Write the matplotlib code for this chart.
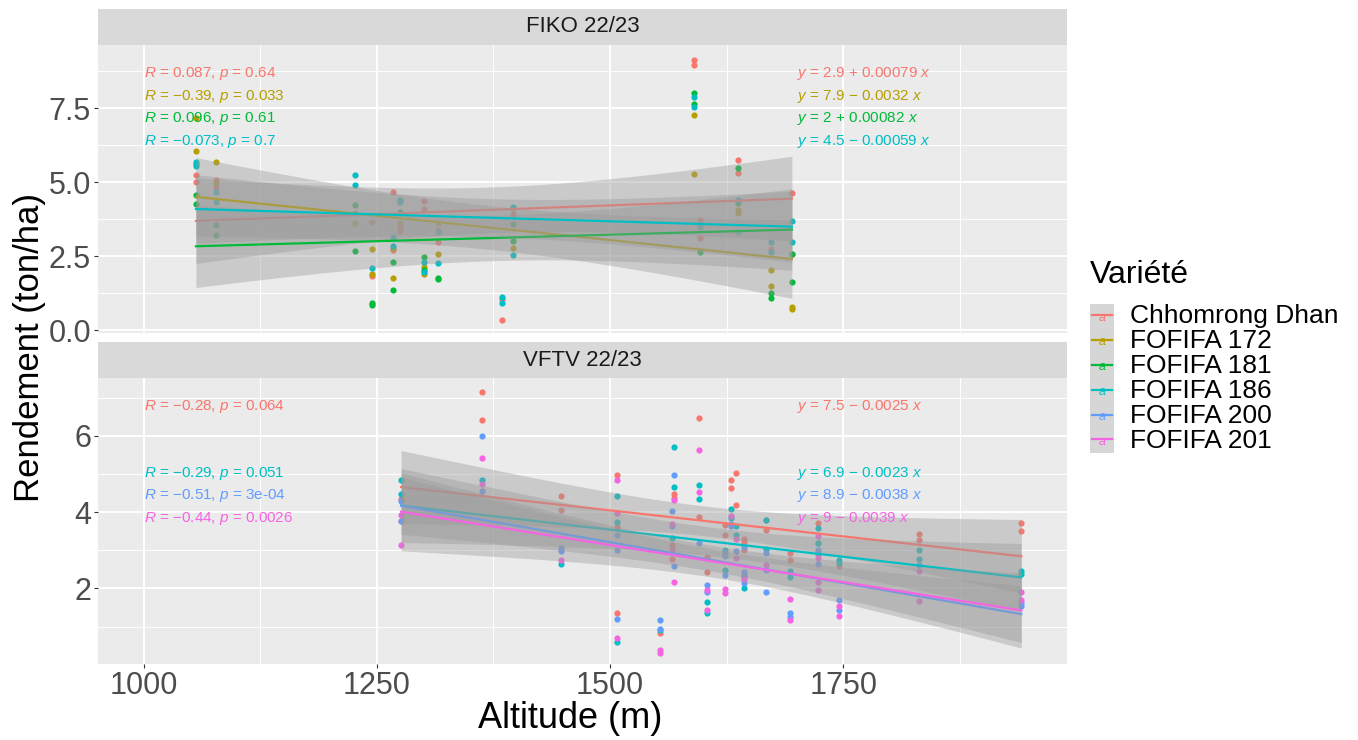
import numpy as np
import matplotlib
matplotlib.use('Agg')
import matplotlib.pyplot as plt
from matplotlib.patches import Rectangle

plt.rcParams['font.family'] = ['Liberation Sans', 'DejaVu Sans']
plt.rcParams['mathtext.fontset'] = 'custom'
plt.rcParams['mathtext.rm'] = 'Liberation Sans'
plt.rcParams['mathtext.it'] = 'Liberation Sans:italic'

# Variétés et couleurs (palette ggplot)
varieties = ['Chhomrong Dhan', 'FOFIFA 172', 'FOFIFA 181', 'FOFIFA 186', 'FOFIFA 200', 'FOFIFA 201']
colors = ['#F8766D', '#B79F00', '#00BA38', '#00BFC4', '#619CFF', '#F564E3']

# ---- FIKO 22/23 ----
fiko_chh_x = [1056, 1056, 1078, 1078, 1227, 1245, 1245, 1267, 1267, 1275, 1275, 1301, 1301, 1316, 1316,
              1384, 1384, 1396, 1590, 1590, 1597, 1597, 1637, 1637, 1673, 1695, 1695]
fiko_chh_y = [5.23, 5.01, 5.06, 4.84, 3.94, 3.65, 1.82, 4.68, 2.70, 3.49, 3.36, 4.37, 4.08, 2.97, 3.38,
              1.04, 0.34, 3.91, 9.14, 8.95, 3.72, 3.12, 5.75, 5.31, 2.73, 4.62, 2.57]
fiko_172_x = [1056, 1056, 1078, 1078, 1227, 1245, 1245, 1267, 1267, 1275, 1301, 1301, 1316, 1316,
              1396, 1396, 1590, 1590, 1637, 1637, 1673, 1673, 1695, 1695]
fiko_172_y = [6.05, 7.15, 5.69, 4.98, 3.63, 2.73, 1.88, 2.76, 1.76, 3.60, 2.12, 1.91, 3.60, 2.56,
              4.11, 2.76, 7.25, 5.26, 4.05, 3.94, 2.02, 1.48, 0.79, 0.70]
fiko_181_x = [1056, 1056, 1078, 1078, 1227, 1227, 1245, 1245, 1267, 1267, 1275, 1301, 1301, 1316, 1316,
              1396, 1396, 1590, 1590, 1597, 1637, 1637, 1673, 1673, 1695, 1695]
fiko_181_y = [4.55, 4.26, 3.55, 3.20, 4.22, 2.66, 0.90, 0.84, 2.30, 1.34, 4.00, 2.46, 2.03, 1.77, 1.73,
              3.58, 3.01, 8.02, 7.64, 2.65, 5.46, 4.28, 1.26, 1.07, 2.58, 1.62]
fiko_186_x = [1056, 1056, 1056, 1078, 1078, 1227, 1227, 1245, 1267, 1267, 1275, 1275, 1301, 1301, 1316, 1316,
              1384, 1384, 1396, 1396, 1590, 1590, 1597, 1637, 1637, 1673, 1673, 1695, 1695]
fiko_186_y = [5.69, 5.61, 5.53, 4.65, 4.32, 5.23, 4.90, 2.08, 2.84, 3.15, 4.39, 4.31, 2.29, 1.96, 3.30, 2.26,
              1.10, 0.90, 4.16, 2.55, 7.87, 7.55, 3.49, 4.39, 3.32, 2.97, 2.65, 3.68, 2.97]
fiko_r = ['0.087', '\u22120.39', '0.096', '\u22120.073']
fiko_p = ['0.64', '0.033', '0.61', '0.7']
fiko_b0 = ['2.9', '7.9', '2', '4.5']
fiko_b1 = ['0.00079', '\u22120.0032', '0.00082', '\u22120.00059']

# ---- VFTV 22/23 ----
vftv_chh_x = [1276, 1276, 1363, 1363, 1447, 1447, 1508, 1508, 1508, 1554, 1566, 1566, 1569, 1569, 1595, 1595,
              1604, 1604, 1623, 1623, 1630, 1630, 1635, 1635, 1644, 1644, 1644, 1667, 1667, 1693, 1693,
              1723, 1723, 1746, 1831, 1831, 1941, 1941]
vftv_chh_y = [4.36, 3.78, 7.14, 6.42, 4.43, 4.05, 4.97, 3.61, 1.35, 0.84, 3.13, 2.78, 4.49, 4.38, 6.46, 3.87,
              2.83, 2.42, 3.66, 3.40, 4.84, 4.63, 5.04, 4.19, 3.31, 3.22, 3.00, 3.79, 3.53, 2.92, 2.76,
              3.72, 2.90, 2.59, 3.42, 3.28, 3.72, 3.50]
vftv_186_x = [1276, 1276, 1363, 1447, 1508, 1508, 1508, 1554, 1566, 1569, 1569, 1595, 1595, 1604, 1604,
              1623, 1623, 1630, 1630, 1635, 1635, 1644, 1644, 1667, 1667, 1693, 1693, 1723, 1723, 1723,
              1746, 1746, 1831, 1831, 1941, 1941]
vftv_186_y = [4.85, 4.47, 4.85, 2.64, 4.42, 3.75, 0.60, 0.91, 3.33, 5.71, 4.66, 4.72, 4.36, 1.65, 1.35,
              3.00, 2.48, 4.08, 3.84, 3.64, 3.41, 2.35, 2.00, 3.79, 3.03, 2.45, 2.30, 3.59, 3.20, 3.18,
              2.74, 2.67, 3.00, 2.78, 2.45, 2.39]
vftv_200_x = [1276, 1276, 1363, 1363, 1447, 1447, 1508, 1508, 1508, 1554, 1554, 1566, 1566, 1569, 1569,
              1595, 1604, 1604, 1623, 1623, 1623, 1630, 1630, 1635, 1644, 1644, 1644, 1644, 1667, 1667,
              1667, 1693, 1693, 1723, 1723, 1723, 1746, 1746, 1831, 1941, 1941]
vftv_200_y = [4.29, 3.78, 6.01, 4.55, 3.06, 2.98, 3.41, 3.00, 1.19, 1.18, 0.95, 4.02, 3.64, 4.97, 2.59,
              3.18, 2.09, 1.90, 2.92, 2.85, 2.35, 3.70, 3.64, 2.98, 3.09, 2.42, 2.29, 2.15, 2.94, 2.48,
              1.90, 1.37, 1.26, 3.00, 2.93, 2.64, 1.71, 1.43, 2.61, 1.62, 1.55]
vftv_201_x = [1276, 1276, 1363, 1363, 1447, 1508, 1508, 1508, 1554, 1554, 1566, 1566, 1569, 1569, 1595,
              1595, 1604, 1604, 1623, 1623, 1630, 1635, 1635, 1644, 1667, 1693, 1693, 1723, 1723, 1723,
              1723, 1746, 1746, 1831, 1831, 1941, 1941]
vftv_201_y = [3.92, 3.14, 5.43, 4.75, 2.76, 4.85, 3.97, 0.69, 0.38, 0.31, 3.70, 3.00, 4.33, 2.17, 5.63,
              4.52, 1.96, 1.43, 1.98, 1.87, 3.91, 3.31, 2.81, 2.24, 2.61, 1.73, 1.17, 3.37, 2.81, 2.16,
              1.97, 1.54, 1.29, 2.47, 1.68, 1.90, 1.69]
vftv_r = ['\u22120.28', '\u22120.29', '\u22120.51', '\u22120.44']
vftv_p = ['0.064', '0.051', '3e-04', '0.0026']
vftv_b0 = ['7.5', '6.9', '8.9', '9']
vftv_b1 = ['\u22120.0025', '\u22120.0023', '\u22120.0038', '\u22120.0039']

panels = [
    dict(title='FIKO 22/23', idx=[0, 1, 2, 3],
         xs=[fiko_chh_x, fiko_172_x, fiko_181_x, fiko_186_x],
         ys=[fiko_chh_y, fiko_172_y, fiko_181_y, fiko_186_y],
         r=fiko_r, p=fiko_p, b0=fiko_b0, b1=fiko_b1,
         ylim=(-0.10, 9.63), yticks=[0, 2.5, 5, 7.5], ylabels=['0.0', '2.5', '5.0', '7.5'],
         yminor=[1.25, 3.75, 6.25, 8.75], box=(98, 45, 1067, 333), strip=(98, 9, 1067, 45)),
    dict(title='VFTV 22/23', idx=[0, 3, 4, 5],
         xs=[vftv_chh_x, vftv_186_x, vftv_200_x, vftv_201_x],
         ys=[vftv_chh_y, vftv_186_y, vftv_200_y, vftv_201_y],
         r=vftv_r, p=vftv_p, b0=vftv_b0, b1=vftv_b1,
         ylim=(0.02, 7.52), yticks=[2, 4, 6], ylabels=['2', '4', '6'],
         yminor=[1, 3, 5, 7], box=(98, 378, 1067, 664), strip=(98, 342, 1067, 378)),
]

W, H = 1358, 740


def px_box(l, t, r, b):
    return [l / W, 1 - b / H, (r - l) / W, (b - t) / H]


def t975(df):
    z = 1.959964
    return (z + (z**3 + z) / 4 / df + (5 * z**5 + 16 * z**3 + 3 * z) / 96 / df**2
            + (3 * z**7 + 19 * z**5 + 17 * z**3 - 15 * z) / 384 / df**3)


fig = plt.figure(figsize=(W / 100, H / 100), dpi=100)

for k, pan in enumerate(panels):
    ax = fig.add_axes(px_box(*pan['box']))
    ax.set_facecolor('#EBEBEB')
    for s in ax.spines.values():
        s.set_visible(False)
    ax.set_xlim(951, 1990)
    ax.set_ylim(*pan['ylim'])
    ax.set_xticks([1000, 1250, 1500, 1750])
    ax.set_xticks([1125, 1375, 1625, 1875], minor=True)
    ax.set_yticks(pan['yticks'])
    ax.set_yticklabels(pan['ylabels'])
    ax.set_yticks(pan['yminor'], minor=True)
    ax.set_axisbelow(True)
    ax.grid(which='major', color='white', lw=1.4)
    ax.grid(which='minor', color='white', lw=0.7)
    ax.tick_params(which='major', length=3, width=0.8, color='#333333',
                   labelcolor='#4D4D4D', labelsize=22, pad=2)
    ax.tick_params(which='minor', length=0)
    if k == 0:
        ax.tick_params(axis='x', which='both', bottom=False, labelbottom=False)
    else:
        ax.set_xticklabels(['1000', '1250', '1500', '1750'])

    # points d'abord
    for j, ci in enumerate(pan['idx']):
        ax.scatter(pan['xs'][j], pan['ys'][j], s=20, color=colors[ci], lw=0, zorder=2)

    # droites de régression + IC 95 %
    for j, ci in enumerate(pan['idx']):
        x = np.array(pan['xs'][j], float)
        y = np.array(pan['ys'][j], float)
        n = len(x)
        b1, b0 = np.polyfit(x, y, 1)
        res = y - (b0 + b1 * x)
        s = np.sqrt(np.sum(res**2) / (n - 2))
        xg = np.linspace(x.min(), x.max(), 80)
        yg = b0 + b1 * xg
        se = s * np.sqrt(1 / n + (xg - x.mean())**2 / np.sum((x - x.mean())**2))
        tq = t975(n - 2)
        ax.fill_between(xg, yg - tq * se, yg + tq * se, color='#999999', alpha=0.4, lw=0, zorder=3)
        ax.plot(xg, yg, color=colors[ci], lw=1.6, zorder=3)

    # annotations R, p et équations
    tr = ax.get_xaxis_transform()
    for j, ci in enumerate(pan['idx']):
        yy = 0.900 - ci * 0.078
        ax.text(1000, yy, r'$\mathit{R}$ = ' + pan['r'][j] + r', $\mathit{p}$ = ' + pan['p'][j],
                transform=tr, color=colors[ci], fontsize=11, ha='left', va='center', zorder=4)
        b1s = pan['b1'][j]
        sign = '\u2212' if b1s.startswith('\u2212') else '+'
        eq = (r'$\mathit{y}$ = ' + pan['b0'][j] + ' ' + sign + ' '
              + b1s.lstrip('\u2212') + r' $\mathit{x}$')
        ax.text(1700, yy, eq, transform=tr, color=colors[ci],
                fontsize=11, ha='left', va='center', zorder=4)

    # bandeau du facet
    sx = fig.add_axes(px_box(*pan['strip']))
    sx.set_facecolor('#D9D9D9')
    sx.set_xticks([])
    sx.set_yticks([])
    for s in sx.spines.values():
        s.set_visible(False)
    sx.text(0.5, 0.5, pan['title'], ha='center', va='center', fontsize=16, color='#1A1A1A',
            transform=sx.transAxes)

fig.text(30 / W, 1 - 347 / H, 'Rendement (ton/ha)', rotation=90, ha='center', va='center', fontsize=25)
fig.text(570 / W, 1 - 718 / H, 'Altitude (m)', ha='center', va='center', fontsize=26)

# légende
fig.text(1090 / W, 1 - 275 / H, 'Variété', ha='left', va='center', fontsize=23)
lg = fig.add_axes(px_box(1090, 304, 1114, 453))
lg.set_xlim(0, 1)
lg.set_ylim(len(varieties), 0)
lg.axis('off')
for i, (name, c) in enumerate(zip(varieties, colors)):
    lg.add_patch(Rectangle((0, i), 1, 1, facecolor='#999999', alpha=0.4, lw=0))
    lg.plot([0.1, 0.9], [i + 0.45, i + 0.45], color=c, lw=1.6)
    lg.text(0.5, i + 0.55, 'a', color=c, fontsize=9, ha='center', va='center', fontstyle='italic')
    fig.text(1130 / W, 1 - (304 + (i + 0.5) * 149 / 6) / H, name, ha='left', va='center', fontsize=19)

fig.savefig('out.png', dpi=100)
